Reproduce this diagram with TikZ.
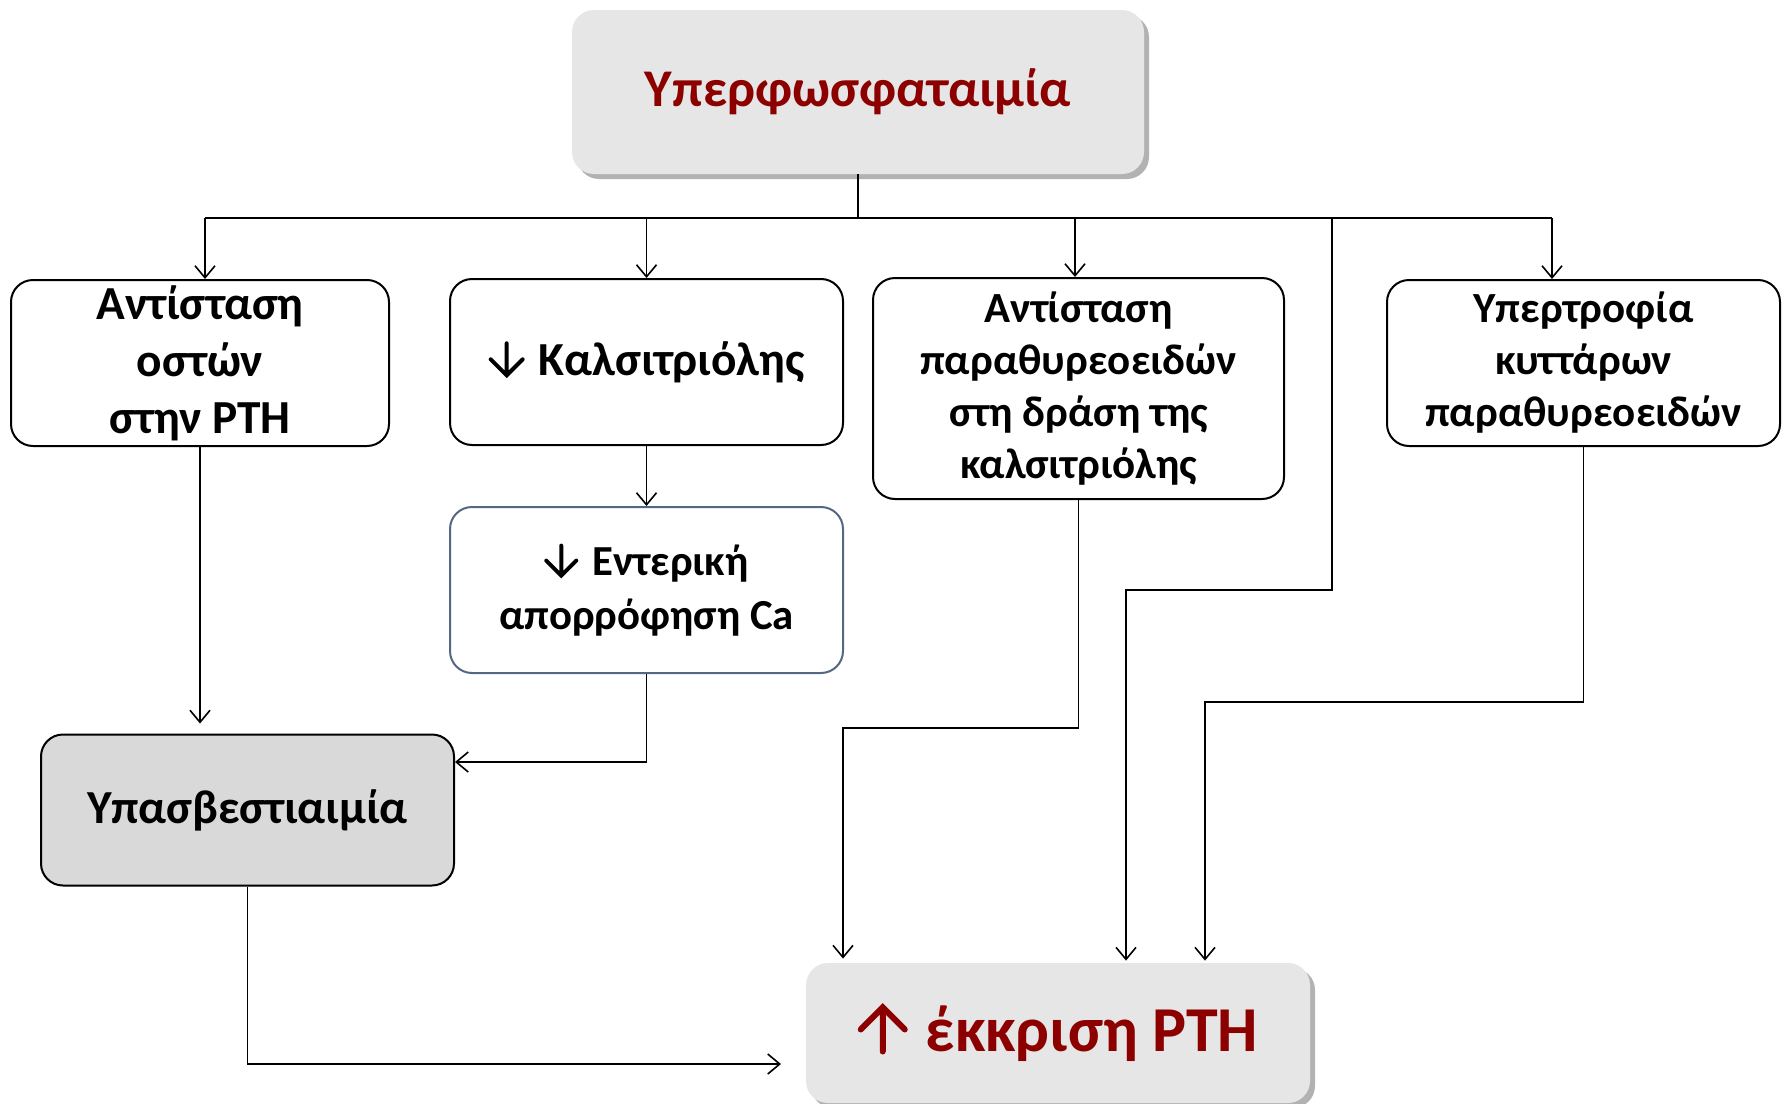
\documentclass[tikz,border=0pt]{standalone}
\usepackage{fontspec}
\setmainfont{Carlito}
\usetikzlibrary{arrows.meta,shadows}
\definecolor{dred}{RGB}{140,0,0}
\definecolor{lgray}{RGB}{230,230,230}
\definecolor{mgray}{RGB}{217,217,217}
\definecolor{slate}{RGB}{84,104,132}
% inline drawn arrows: #1 height, #2 stroke, #3 colour
\newcommand\mydnarrow[3]{\tikz[baseline=0pt]\draw[#3,sharp corners,line width=#2,line cap=round,line join=miter] (0pt,#1) -- (0pt,0pt) (-0.5*#1,0.5*#1) -- (0pt,0pt) -- (0.5*#1,0.5*#1);}
\newcommand\myuparrow[3]{\tikz[baseline=0pt]\draw[#3,sharp corners,line width=#2,line cap=round,line join=miter] (0pt,0pt) -- (0pt,#1) (-0.5*#1,0.5*#1) -- (0pt,#1) -- (0.5*#1,0.5*#1);}
\tikzset{
  box/.style={draw=black,line width=1pt,rounded corners=11pt,align=center,inner sep=0pt,font=\bfseries\fontsize{23.7}{28.5}\selectfont,fill=white},
  smallbox/.style={box,font=\bfseries\fontsize{21.5}{26}\selectfont},
  hilite/.style={draw=none,fill=lgray,rounded corners=11pt,align=center,inner sep=0pt,text=dred,
    drop shadow={shadow xshift=2.5pt,shadow yshift=-2.5pt,fill=black,opacity=0.3}},
  conn/.style={line width=0.8pt},
  arr/.style={conn,-{Straight Barb[length=6pt,width=10pt]}}
}
\begin{document}
\begin{tikzpicture}[x=0.5pt,y=-0.5pt]
\useasboundingbox (0,0) rectangle (1783,1103);
\node[hilite,minimum width=286pt,minimum height=82pt,font=\bfseries\fontsize{26.5}{32}\selectfont] (top) at (858,92) {Υπερφωσφαταιμία};
\node[box,minimum width=189pt,minimum height=83pt] (A) at (200,363) {Αντίσταση\\οστών\\στην PTH};
\node[box,minimum width=196.5pt,minimum height=83pt] (B) at (646.5,362) {\mydnarrow{16pt}{2pt}{black}\hspace{7pt}Καλσιτριόλης};
\node[smallbox,minimum width=205.5pt,minimum height=110.5pt] (C) at (1078.5,388.5) {Αντίσταση\\παραθυρεοειδών\\στη δράση της\\καλσιτριόλης};
\node[smallbox,minimum width=196.5pt,minimum height=83pt] (D) at (1583.5,363) {Υπερτροφία\\κυττάρων\\παραθυρεοειδών};
\node[box,draw=slate,font=\bfseries\fontsize{21.4}{27}\selectfont,minimum width=196.5pt,minimum height=83pt] (E) at (646.5,590) {\mydnarrow{15pt}{2pt}{black}\hspace{7pt}Εντερική\\απορρόφηση Ca};
\node[box,fill=mgray,minimum width=206.5pt,minimum height=75.5pt,font=\bfseries\fontsize{23.7}{28.5}\selectfont] (F) at (247.5,810) {Υπασβεστιαιμία};
\node[hilite,minimum width=252pt,minimum height=70pt,font=\bfseries\fontsize{32}{36}\selectfont] (G) at (1058,1033) {\myuparrow{22pt}{3pt}{dred}\hspace{9pt}έκκριση PTH};
% bus
\coordinate (busL) at (205,218);
\coordinate (busR) at (1552,218);
\coordinate (bB) at (646.5,218);
\coordinate (bC) at (1075,218);
\coordinate (bX) at (1332,218);
\draw[conn] (top.south) -- (top.south |- busL);
\draw[conn] (busL) -- (busR);
\draw[arr] (busL) -- (busL |- A.north);
\draw[arr] (bB) -- (B.north);
\draw[arr] (bC) -- (bC |- C.north);
\draw[arr] (busR) -- (busR |- D.north);
% lower connectors
\draw[arr,shorten >=5pt] (A.south) -- (A.south |- F.north);
\draw[arr] (B.south) -- (E.north);
\coordinate (k4) at (646.5,762);
\draw[arr] (E.south) -- (k4) -- (k4 -| F.east);
\coordinate (k2) at (843,728);
\draw[arr] (C.south) |- (k2) -- ([yshift=2pt]k2 |- G.north);
\coordinate (k1) at (1126,590);
\draw[arr] (bX) |- (k1) -- ([yshift=1pt]k1 |- G.north);
\coordinate (k3) at (1205,702);
\draw[arr] (D.south) |- (k3) -- ([yshift=1pt]k3 |- G.north);
\coordinate (k5) at (781,1064);
\draw[arr] (F.south) |- (k5);
\end{tikzpicture}
\end{document}
